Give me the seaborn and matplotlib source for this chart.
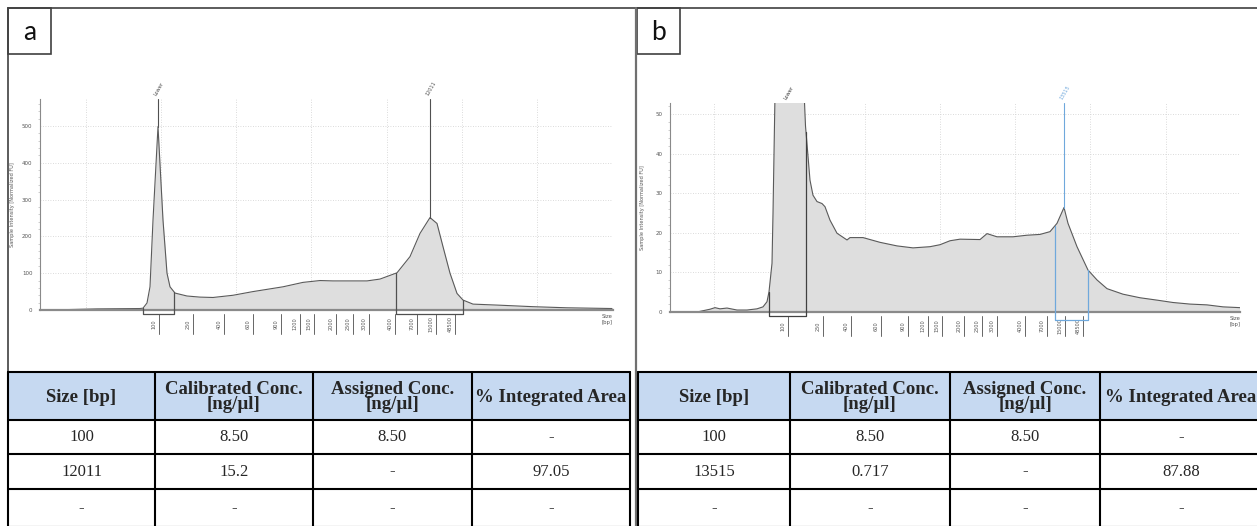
import numpy as np
import pandas as pd
import matplotlib
matplotlib.use("Agg")
import matplotlib.pyplot as plt
import seaborn as sns
from matplotlib.patches import Rectangle
from matplotlib.ticker import MultipleLocator

# --- electropherogram traces (x = migration position, arbitrary units) ---
pos_a = [10, 57, 100, 103, 107, 110, 113, 118, 123, 127, 130, 135, 147, 160, 173,
         193, 213, 243, 263, 280, 293, 310, 327, 340, 357, 370, 380, 390, 397, 403,
         410, 417, 423, 433, 460, 493, 527, 572]
fu_a = [0, 3, 4, 5, 19, 63, 244, 498, 244, 100, 63, 46, 38, 35, 34,
        40, 50, 63, 75, 80, 79, 79, 79, 84, 101, 145, 208, 251, 235, 172,
        100, 45, 27, 16, 13, 9, 6, 4]

pos_b = [27, 40, 45, 50, 57, 67, 77, 87, 93, 97, 99, 102, 103, 104, 106, 112, 118,
         124, 131, 134, 135.5, 140, 143, 147, 152, 155, 160, 167, 177, 180, 193, 210,
         227, 243, 260, 270, 280, 290, 310, 317, 327, 343, 357, 370, 380, 387, 394,
         398, 407, 418, 427, 437, 453, 470, 487, 503, 520, 537, 553, 570]
fu_b = [0, 0.7, 1.1, 0.8, 1.0, 0.5, 0.5, 0.8, 1.3, 2.6, 5.1, 12.3, 24.9, 40, 70, 200, 300,
        200, 80, 56, 47, 33.3, 29.5, 27.9, 27.4, 26.6, 23.2, 19.9, 18.2, 18.8, 18.8, 17.6,
        16.7, 16.2, 16.5, 17.0, 18.0, 18.4, 18.3, 19.8, 19.0, 19.0, 19.4, 19.6, 20.3, 22.4, 26.4,
        22.4, 16.5, 10.6, 8.1, 5.9, 4.5, 3.6, 3.0, 2.4, 2.0, 1.8, 1.3, 1.1]

# ladder sizes and where they sit on the migration axis
ladder_bp = ["100", "250", "400", "600", "900", "1200", "1500", "2000", "2500",
             "3000", "4000", "7000", "15000", "48500"]
ladder_a = [119, 153, 184, 213, 241, 260, 274, 296, 313, 329, 355, 377, 396, 415]
ladder_b = [118, 153, 181, 211, 238, 258, 272, 294, 312, 327, 355, 377, 395, 413]

peaks_a = ["Lower", "12011"]
peak_pos_a = [118, 390]
peaks_b = ["Lower", "13515"]
peak_pos_b = [118, 394]
regions_a = [(103, 134), (356, 423)]
regions_b = [(99, 136), (385, 418)]

table_header = ["Size [bp]", "Calibrated Conc.\n[ng/µl]", "Assigned Conc.\n[ng/µl]",
                "% Integrated Area"]
rows_a = [["100", "8.50", "8.50", "-"],
          ["12011", "15.2", "-", "97.05"],
          ["-", "-", "-", "-"]]
rows_b = [["100", "8.50", "8.50", "-"],
          ["13515", "0.717", "-", "87.88"],
          ["-", "-", "-", "-"]]

W, H = 1257, 526
sns.set_style("white")
plt.rcParams["font.family"] = ["DejaVu Sans"]

fig = plt.figure(figsize=(W / 100, H / 100), dpi=100)


def fbox(x0, y0, x1, y1):
    return [x0 / W, 1 - y1 / H, (x1 - x0) / W, (y1 - y0) / H]


# layout canvas in pixel units
canvas = fig.add_axes([0, 0, 1, 1], zorder=0)
canvas.set_xlim(0, W)
canvas.set_ylim(H, 0)
canvas.axis("off")

frame = "#404040"
canvas.plot([8, W], [8, 8], color=frame, lw=1.2)
canvas.plot([8, 8], [8, H], color=frame, lw=1.2)
canvas.plot([636, 636], [8, H], color="#707070", lw=1.6)
for (x0, lab) in [(8, "a"), (637, "b")]:
    canvas.add_patch(Rectangle((x0, 8), 43, 46, fill=False, ec=frame, lw=1.2))
    canvas.text(x0 + 21.5, 32, lab, ha="center", va="center", fontsize=19,
                family=["Lato", "DejaVu Sans"], color="#111111")


def draw_table(cols, rows, row_edges):
    top, hdr = row_edges[0], row_edges[1]
    canvas.add_patch(Rectangle((cols[0], top), cols[-1] - cols[0], hdr - top,
                               fc="#c6d9f1", ec="none"))
    for y in row_edges:
        canvas.plot([cols[0], cols[-1]], [y, y], color="black", lw=1.5)
    for x in cols:
        canvas.plot([x, x], [top, row_edges[-1]], color="black", lw=1.5)
    for j, h in enumerate(table_header):
        canvas.text((cols[j] + cols[j + 1]) / 2, (top + hdr) / 2 + 1, h, ha="center",
                    va="center", fontsize=13.5, fontweight="bold",
                    family=["Liberation Serif"], linespacing=0.9)
    for i, row in enumerate(rows):
        yc = (row_edges[i + 1] + row_edges[i + 2]) / 2
        for j, v in enumerate(row):
            canvas.text((cols[j] + cols[j + 1]) / 2, yc, v, ha="center", va="center",
                        fontsize=12, family=["Liberation Serif"])


row_edges = [372, 420, 454, 489, 527]
draw_table([8, 155, 313, 472, 630], rows_a, row_edges)
draw_table([638, 790, 950, 1100, 1262], rows_b, row_edges)


def draw_trace(box, pos, fu, ymax, ystep, yminor, ladder, grid_x, peaks, peak_pos,
               regions, region_bottom, marker_colors):
    x0, y0, x1, y1 = box
    ax = fig.add_axes(fbox(*box), zorder=2)
    ax.set_facecolor("none")
    hpx = y1 - y0
    xmax = x1 - x0
    df = pd.DataFrame({"pos": pos, "fu": fu})
    ax.fill_between(df["pos"], 0, df["fu"], color="#dedede", lw=0, zorder=1)
    sns.lineplot(data=df, x="pos", y="fu", ax=ax, color="#5a5a5a", lw=0.8, zorder=3)
    ax.set_xlim(0, xmax)
    ax.set_ylim(0, ymax)
    ax.set_xlabel("")
    ax.set_ylabel("Sample Intensity [Normalized FU]", fontsize=3.6, color="#555555")
    ax.yaxis.set_label_coords(-25 / xmax, 0.5)

    ax.set_xticks(grid_x)
    ax.set_yticks(np.arange(0, ymax, ystep))
    ax.yaxis.set_minor_locator(MultipleLocator(yminor))
    ax.tick_params(axis="x", length=0, labelbottom=False)
    ax.tick_params(axis="y", which="major", length=2.5, width=0.5, color="#888888",
                   labelsize=4, labelcolor="#555555", pad=3)
    ax.tick_params(axis="y", which="minor", length=1.5, width=0.4, color="#aaaaaa", left=True)
    ax.grid(True, which="major", ls=(0, (1, 2)), color="#cfcfcf", lw=0.6)
    for s in ["top", "right"]:
        ax.spines[s].set_visible(False)
    ax.spines["left"].set_color("#8a8a8a")
    ax.spines["left"].set_linewidth(0.8)
    ax.spines["bottom"].set_color("#8a8a8a")
    ax.spines["bottom"].set_linewidth(1.6)
    ax.spines["bottom"].set_zorder(4)

    # ladder ticks below the baseline
    tr = ax.get_xaxis_transform()
    for lab, p in zip(ladder_bp, ladder):
        ax.plot([p, p], [-4 / hpx, -24 / hpx], transform=tr, color="#666666", lw=0.7,
                clip_on=False)
        ax.text(p - 2.5, -14 / hpx, lab, transform=tr, rotation=90, ha="right",
                va="center", fontsize=3.6, color="#555555")
    ax.text(1.0, -4 / hpx, "Size\n[bp]", transform=ax.transAxes, ha="right", va="top",
            fontsize=3.8, color="#555555", linespacing=1.3)

    # peak markers
    for lab, p, c in zip(peaks, peak_pos, marker_colors):
        h = np.interp(p, pos, fu)
        if h < ymax:
            ax.plot([p, p], [h, ymax], color=c, lw=0.8, zorder=4)
        ax.text(p - 1, ymax * 1.01, lab, rotation=60, rotation_mode="anchor",
                ha="left", va="bottom", fontsize=3.6, color=c, clip_on=False)

    # integration regions
    for (l, r), c, bot in zip(regions, marker_colors, region_bottom):
        hl = min(np.interp(l, pos, fu), ymax)
        hr = min(np.interp(r, pos, fu), ymax)
        ax.plot([l, l, r, r], [hl, bot, bot, hr], color=c, lw=0.9, clip_on=False, zorder=5)
    return ax


draw_trace((40, 99, 613, 310), pos_a, fu_a, 573, 100, 20, ladder_a,
           [46, 121, 196, 271, 347, 422, 497, 573], peaks_a, peak_pos_a,
           regions_a, [-11, -11], ["#505050", "#505050"])
draw_trace((670, 103, 1240, 312), pos_b, fu_b, 52.8, 10, 2, ladder_b,
           [44, 119, 195, 270, 345, 420, 496, 570], peaks_b, peak_pos_b,
           regions_b, [-1, -2], ["#404040", "#6fa8dc"])

fig.savefig("out.png", dpi=100)
